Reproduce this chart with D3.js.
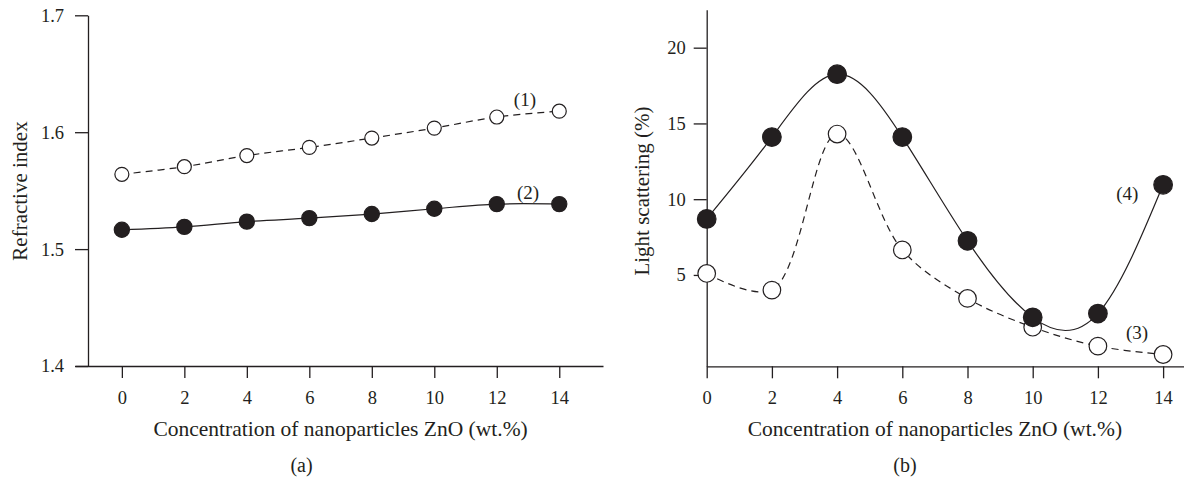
<!DOCTYPE html>
<html>
<head>
<meta charset="utf-8">
<script src="https://cdn.jsdelivr.net/npm/d3@7"></script>
<style>
  body { margin: 0; background: #fff; }
  svg text { font-family: "Liberation Serif", "DejaVu Serif", serif; fill: #231f20; }
</style>
</head>
<body>
<svg id="chart" width="1184" height="479"></svg>
<script>
  'use strict';

  //Data
  let concentration = [0, 2, 4, 6, 8, 10, 12, 14];
  let refractive1 = [1.564, 1.5705, 1.580, 1.587, 1.595, 1.6035, 1.613, 1.618]; //(1) open, dashed
  let refractive2 = [1.5165, 1.519, 1.5235, 1.5265, 1.530, 1.5345, 1.5385, 1.5385]; //(2) filled, solid
  let scattering3 = [5.1, 4.0, 14.3, 6.65, 3.45, 1.55, 0.3, -0.25]; //(3) open, dashed
  let scattering4 = [8.7, 14.1, 18.25, 14.1, 7.25, 2.2, 2.45, 10.95]; //(4) filled, solid
  let xTicks = [0, 2, 4, 6, 8, 10, 12, 14];
  let yTicksA = [1.4, 1.5, 1.6, 1.7];
  let yTicksB = [5, 10, 15, 20];
  let xTitle = "Concentration of nanoparticles ZnO (wt.%)";

  let svg = d3.select("#chart");
  let ink = "#231f20";

  //Panel scales
  let xA = d3.scaleLinear().domain([-1.5, 15.4]).range([75, 603]);
  let yA = d3.scaleLinear().domain([1.4, 1.7]).range([366, 15.3]);
  let xB = d3.scaleLinear().domain([0, 14.65]).range([706.7, 1184.3]);
  let yB = d3.scaleLinear().domain([-1.03, 22.5]).range([366.3, 9.8]);

  //Draw one axis pair and its labels
  function drawAxes(x, y, yTicks, yFormat, yPad, yTitle, yTitleX, yAxisX, tag, tagX) {
    let g = svg.append("g");

    let xAxis = g.append("g")
      .attr("transform", "translate(0," + y.range()[0] + ")")
      .call(d3.axisBottom(x).tickValues(xTicks).tickSize(12).tickSizeOuter(0).tickPadding(13));

    let yAxis = g.append("g")
      .attr("transform", "translate(" + yAxisX + ",0)")
      .call(d3.axisLeft(y).tickValues(yTicks).tickFormat(yFormat).tickSize(13).tickSizeOuter(0).tickPadding(yPad));

    [xAxis, yAxis].forEach(function(a) {
      a.selectAll("path, line").attr("stroke", ink).attr("stroke-width", 1.3);
      a.selectAll("text").attr("font-size", 18.5).attr("fill", ink);
    });

    let cx = (x(0) + x(14)) / 2;
    g.append("text")
      .attr("x", cx)
      .attr("y", 435.5)
      .attr("text-anchor", "middle")
      .attr("font-size", 21.5)
      .text(xTitle);

    g.append("text")
      .attr("x", tagX)
      .attr("y", 472)
      .attr("text-anchor", "middle")
      .attr("font-size", 20)
      .text(tag);

    g.append("text")
      .attr("transform", "translate(" + yTitleX + "," + 191 + ") rotate(-90)")
      .attr("text-anchor", "middle")
      .attr("font-size", 21)
      .text(yTitle);
  }

  drawAxes(xA, yA, yTicksA, d3.format(".1f"), 11, "Refractive index", 26.5, 88, "(a)", 301.5);
  drawAxes(xB, yB, yTicksB, d3.format("d"), 8, "Light scattering (%)", 649, xB(0), "(b)", 905);

  //Draw one series: curve then markers on top
  function drawSeries(x, y, values, dashed, filled, curve, r) {
    let pts = concentration.map(function(c, i) { return [c, values[i]]; });
    let line = d3.line()
      .x(function(d) { return x(d[0]); })
      .y(function(d) { return y(d[1]); })
      .curve(curve);

    svg.append("path")
      .datum(pts)
      .attr("fill", "none")
      .attr("stroke", ink)
      .attr("stroke-width", 1.2)
      .attr("stroke-dasharray", dashed ? "7,5" : null)
      .attr("d", line);

    svg.append("g").selectAll("circle")
      .data(pts)
      .enter()
      .append("circle")
        .attr("cx", function(d) { return x(d[0]); })
        .attr("cy", function(d) { return y(d[1]); })
        .attr("r", r)
        .attr("fill", filled ? ink : "#fff")
        .attr("stroke", ink)
        .attr("stroke-width", 1.2);
  }

  let smooth = d3.curveCatmullRom.alpha(0.5);
  drawSeries(xA, yA, refractive1, true, false, smooth, 7);
  drawSeries(xA, yA, refractive2, false, true, smooth, 7.6);
  drawSeries(xB, yB, scattering3, true, false, smooth, 8.8);
  drawSeries(xB, yB, scattering4, false, true, d3.curveNatural, 9.3);

  //Curve labels
  let labels = [
    { text: "(1)", x: xA(12.9), y: yA(1.6225) },
    { text: "(2)", x: xA(13.0), y: yA(1.543) },
    { text: "(3)", x: xB(13.2), y: yB(0.77) },
    { text: "(4)", x: xB(12.9), y: yB(9.95) }
  ];
  svg.selectAll(".lbl")
    .data(labels)
    .enter()
    .append("text")
      .attr("class", "lbl")
      .attr("x", function(d) { return d.x; })
      .attr("y", function(d) { return d.y; })
      .attr("text-anchor", "middle")
      .attr("font-size", 19)
      .text(function(d) { return d.text; });
</script>
</body>
</html>
